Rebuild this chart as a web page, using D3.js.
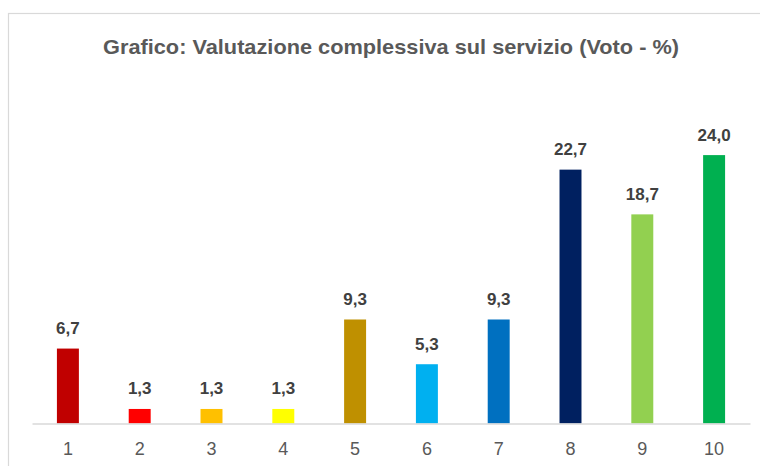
<!DOCTYPE html>
<html><head><meta charset="utf-8">
<script src="https://cdn.jsdelivr.net/npm/d3@7"></script>
<style>body{margin:0;background:#fff}svg{display:block}</style>
</head><body>
<script>
const categories = ["1","2","3","4","5","6","7","8","9","10"];
const values = [6.7, 1.3, 1.3, 1.3, 9.3, 5.3, 9.3, 22.7, 18.7, 24.0];
const colors = ["#C00000","#FF0000","#FFC000","#FFFF00","#BF9000","#00B0F0","#0070C0","#002060","#92D050","#00B050"];
const title = "Grafico: Valutazione complessiva sul servizio (Voto - %)";

const W = 760, H = 466;
const svg = d3.select("body").append("svg").attr("width", W).attr("height", H);
svg.append("rect").attr("x", 8.5).attr("y", 13.5).attr("width", 800).attr("height", 500)
  .attr("fill", "#fff").attr("stroke", "#d9d9d9").attr("stroke-width", 1.2);

const x = d3.scaleBand().domain(categories).range([32, 750]).paddingInner(0.694).paddingOuter(0.347);
const y = d3.scaleLinear().domain([0, 30]).range([423.5, 88]);

svg.append("text").attr("x", 391).attr("y", 54).attr("text-anchor", "middle")
  .attr("font-family", "Liberation Sans, Arial, sans-serif").attr("font-weight", "bold")
  .attr("font-size", 21).attr("fill", "#595959")
  .attr("textLength", 576).attr("lengthAdjust", "spacingAndGlyphs").text(title);

svg.selectAll("rect.bar").data(values).enter().append("rect").attr("class", "bar")
  .attr("x", (d, i) => x(categories[i])).attr("width", x.bandwidth())
  .attr("y", d => y(d)).attr("height", d => y(0) - y(d))
  .attr("fill", (d, i) => colors[i]);

svg.selectAll("text.lbl").data(values).enter().append("text").attr("class", "lbl")
  .attr("x", (d, i) => x(categories[i]) + x.bandwidth() / 2).attr("y", d => y(d) - 14.5)
  .attr("text-anchor", "middle").attr("font-family", "Liberation Sans, Arial, sans-serif")
  .attr("font-weight", "bold").attr("font-size", 17).attr("fill", "#404040")
  .text(d => d.toFixed(1).replace(".", ","));

const ax = svg.append("g").attr("transform", `translate(0,${y(0)})`)
  .call(d3.axisBottom(x).tickSize(0).tickPadding(17));
ax.select(".domain").attr("stroke", "#d9d9d9").attr("stroke-width", 1.5);
ax.selectAll("text").attr("font-family", "Liberation Sans, Arial, sans-serif")
  .attr("font-size", 18).attr("fill", "#595959").attr("dy", null).attr("y", 31.5);
</script>
</body></html>
